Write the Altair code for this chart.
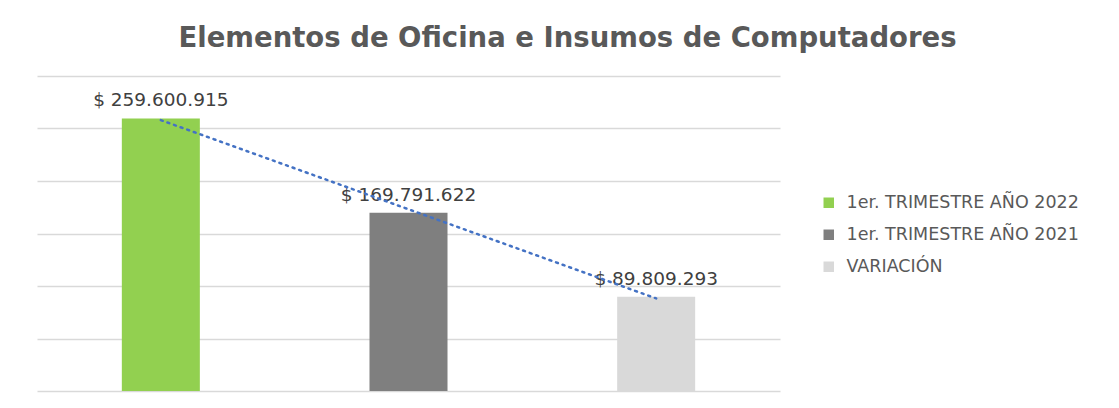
import altair as alt
import pandas as pd

categories = ["1er. TRIMESTRE AÑO 2022", "1er. TRIMESTRE AÑO 2021", "VARIACIÓN"]
values = [259600915, 169791622, 89809293]
labels = ["$ 259.600.915", "$ 169.791.622", "$ 89.809.293"]
colors = ["#92D050", "#7F7F7F", "#D9D9D9"]
grid_values = [0, 50000000, 100000000, 150000000, 200000000, 250000000, 300000000]

df = pd.DataFrame({
    "cat": categories,
    "value": values,
    "label": labels,
    "idx": list(range(len(categories))),
})

FONT = "DejaVu Sans"

base = alt.Chart(df)

y_axis = alt.Axis(values=grid_values, grid=True, labels=False, ticks=False,
                  domain=False, title=None, gridColor="#D9D9D9", gridWidth=1.5)

bars = base.mark_bar().encode(
    x=alt.X("cat:N", sort=categories, axis=None,
            scale=alt.Scale(paddingInner=0.685, paddingOuter=0.3425)),
    y=alt.Y("value:Q", scale=alt.Scale(domain=[0, 300000000]), axis=y_axis),
    color=alt.Color("cat:N", sort=categories,
                    scale=alt.Scale(domain=categories, range=colors),
                    legend=alt.Legend(title=None, orient="none", legendX=783, legendY=118,
                                      symbolType="square", symbolSize=110,
                                      symbolStrokeWidth=0, labelFont=FONT,
                                      labelFontSize=17.5, labelColor="#595959",
                                      labelLimit=400,
                                      rowPadding=13, labelOffset=9)),
)

text = base.mark_text(dy=-12, baseline="alphabetic", font=FONT, fontSize=18.5,
                      color="#404040").encode(
    x=alt.X("cat:N", sort=categories, axis=None),
    y=alt.Y("value:Q", axis=y_axis),
    text="label:N",
)

trend = base.transform_regression("idx", "value", extent=[0, 2]).mark_line(
    color="#4472C4", strokeWidth=2.5, strokeDash=[2, 5], strokeCap="round"
).encode(
    x=alt.X("idx:Q", scale=alt.Scale(domain=[-0.5, 2.5], nice=False, zero=False), axis=None),
    y=alt.Y("value:Q", axis=y_axis),
)

chart = alt.layer(bars, text, trend).resolve_scale(x="independent").properties(
    width=743,
    height=315,
    background="white",
    title=alt.TitleParams("Elementos de Oficina e Insumos de Computadores",
                          font=FONT, fontSize=27.5, fontWeight="bold", color="#595959",
                          anchor="middle", dx=159, offset=24),
    autosize=alt.AutoSizeParams(type="none"),
    padding={"left": 29, "top": 68, "right": 331, "bottom": 9},
).configure_view(strokeWidth=0, stroke="transparent").configure_axis(domain=False)

chart.save("out.html", embed_options={"renderer": "svg", "actions": False})
